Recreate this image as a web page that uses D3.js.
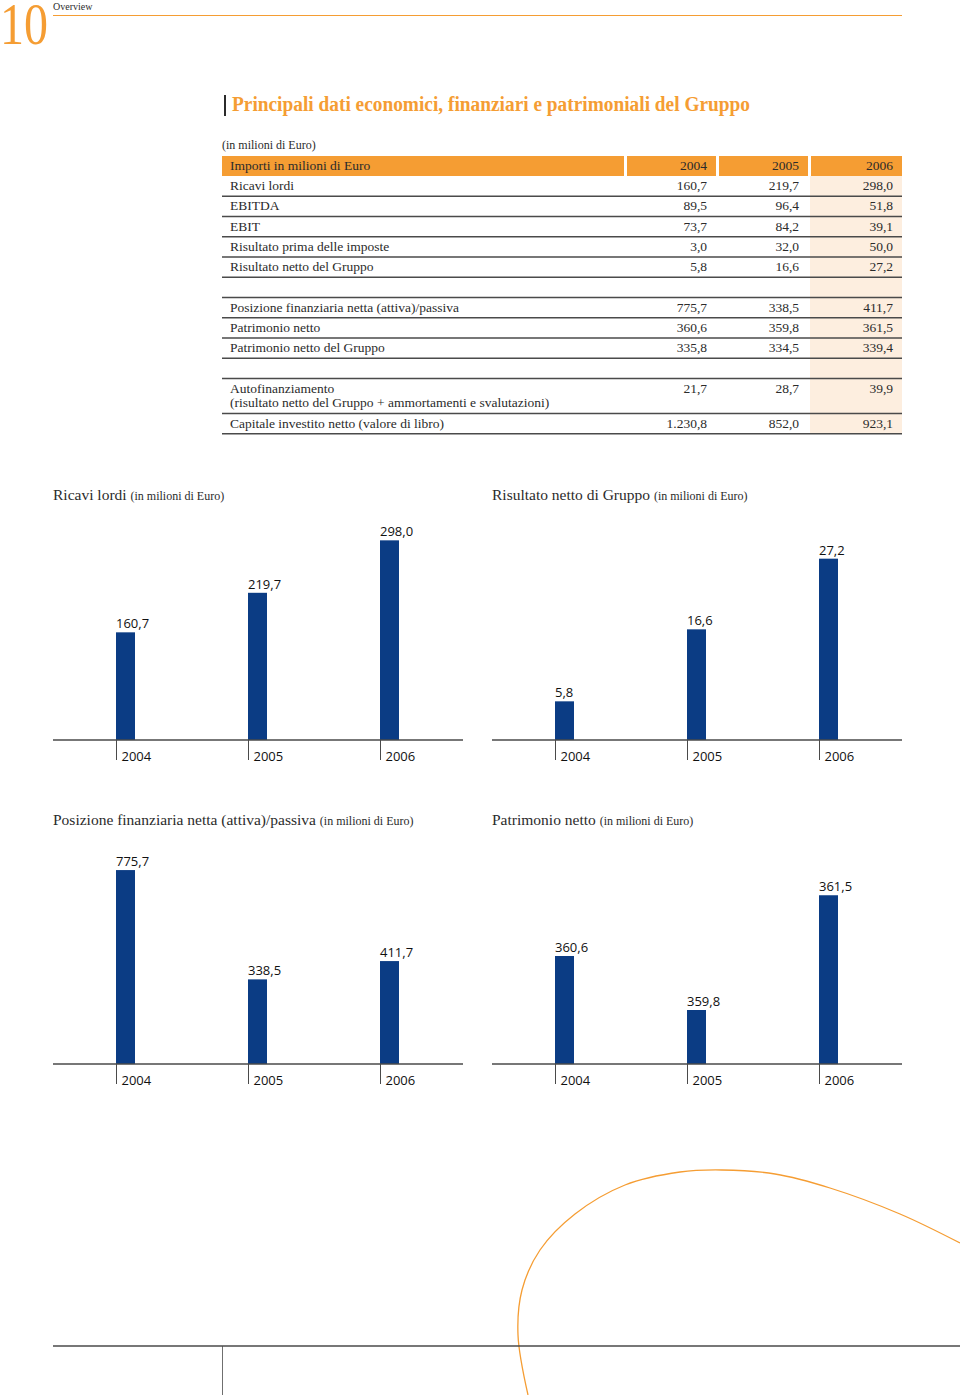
<!DOCTYPE html>
<html>
<head>
<meta charset="utf-8">
<script src="https://cdn.jsdelivr.net/npm/d3@7"></script>
<style>
  body { margin: 0; background: #fff; }
  svg { display: block; }
</style>
</head>
<body>
<svg width="960" height="1395"></svg>
<script>
// --- data ---
const years = ["2004", "2005", "2006"];

const tableLabels = [
  "Ricavi lordi",
  "EBITDA",
  "EBIT",
  "Risultato prima delle imposte",
  "Risultato netto del Gruppo",
  null,
  "Posizione finanziaria netta (attiva)/passiva",
  "Patrimonio netto",
  "Patrimonio netto del Gruppo",
  null,
  "Autofinanziamento\n(risultato netto del Gruppo + ammortamenti e svalutazioni)",
  "Capitale investito netto (valore di libro)"
];
const values2004 = [160.7, 89.5, 73.7, 3.0, 5.8, null, 775.7, 360.6, 335.8, null, 21.7, 1230.8];
const values2005 = [219.7, 96.4, 84.2, 32.0, 16.6, null, 338.5, 359.8, 334.5, null, 28.7, 852.0];
const values2006 = [298.0, 51.8, 39.1, 50.0, 27.2, null, 411.7, 361.5, 339.4, null, 39.9, 923.1];

const ricaviLordi = [160.7, 219.7, 298.0];
const risultatoNetto = [5.8, 16.6, 27.2];
const posizioneFin = [775.7, 338.5, 411.7];
const patrimonioNetto = [360.6, 359.8, 361.5];

// --- style ---
const orange = "#f59d33";
const navy = "#0b3c84";
const rule = "#4a4a4a";
const ink = "#2b2b2b";
const serif = "'Liberation Serif', 'DejaVu Serif', serif";
const sans = "'Open Sans', 'Noto Sans', sans-serif";

const fmt = d3.formatLocale({ decimal: ",", thousands: ".", grouping: [3], currency: ["€", ""] }).format(",.1f");

const svg = d3.select("svg");

// page header
svg.append("text")
  .attr("x", 0).attr("y", 44)
  .attr("font-family", serif).attr("font-size", 60)
  .attr("textLength", 48).attr("lengthAdjust", "spacingAndGlyphs")
  .attr("fill", orange)
  .text("10");

svg.append("text")
  .attr("x", 53).attr("y", 10)
  .attr("font-family", serif).attr("font-size", 10)
  .attr("fill", ink)
  .text("Overview");

svg.append("line")
  .attr("x1", 53).attr("x2", 902).attr("y1", 15.5).attr("y2", 15.5)
  .attr("stroke", orange).attr("stroke-width", 1);

// section title
svg.append("rect")
  .attr("x", 224).attr("y", 95).attr("width", 2).attr("height", 21)
  .attr("fill", ink);

svg.append("text")
  .attr("x", 232).attr("y", 111)
  .attr("font-family", serif).attr("font-size", 20).attr("font-weight", "bold")
  .attr("textLength", 518).attr("lengthAdjust", "spacingAndGlyphs")
  .attr("fill", orange)
  .text("Principali dati economici, finanziari e patrimoniali del Gruppo");

// --- table ---
const tLeft = 222, tRight = 902;
const colCells = [[627, 716], [719, 808], [811, 902]];
const headTop = 156, headH = 20;
const tFont = 13.5;

svg.append("text")
  .attr("x", tLeft).attr("y", 149)
  .attr("font-family", serif).attr("font-size", 12)
  .attr("fill", ink)
  .text("(in milioni di Euro)");

// header band
svg.append("rect")
  .attr("x", tLeft).attr("y", headTop).attr("width", 624 - tLeft).attr("height", headH)
  .attr("fill", orange);
svg.selectAll(".hcell")
  .data(years)
  .join("rect")
  .attr("class", "hcell")
  .attr("x", (d, i) => colCells[i][0])
  .attr("y", headTop)
  .attr("width", (d, i) => colCells[i][1] - colCells[i][0])
  .attr("height", headH)
  .attr("fill", orange);

svg.append("text")
  .attr("x", 230).attr("y", headTop + 14)
  .attr("font-family", serif).attr("font-size", tFont)
  .attr("fill", ink)
  .text("Importi in milioni di Euro");

svg.selectAll(".htext")
  .data(years)
  .join("text")
  .attr("class", "htext")
  .attr("x", (d, i) => colCells[i][1] - 9)
  .attr("y", headTop + 14)
  .attr("text-anchor", "end")
  .attr("font-family", serif).attr("font-size", tFont)
  .attr("fill", ink)
  .text(d => d);

// rows
const rowH = 20.25, rowH2 = 35;
const rows = [];
let yCur = headTop + headH;
tableLabels.forEach((label, i) => {
  const h = label && label.includes("\n") ? rowH2 : rowH;
  rows.push({ label, top: yCur, h, v: [values2004[i], values2005[i], values2006[i]] });
  yCur += h;
});
const tableBottom = yCur;

// highlighted last year column
svg.append("rect")
  .attr("x", 810).attr("y", headTop + headH)
  .attr("width", tRight - 810).attr("height", tableBottom - headTop - headH)
  .attr("fill", "#fdeedf");

const rowG = svg.selectAll(".row")
  .data(rows)
  .join("g")
  .attr("class", "row")
  .attr("transform", d => `translate(0,${d.top})`);

rowG.append("line")
  .attr("x1", tLeft).attr("x2", tRight)
  .attr("y1", d => d.h).attr("y2", d => d.h)
  .attr("stroke", rule).attr("stroke-width", 1.6);

rowG.filter(d => d.label)
  .append("text")
  .attr("font-family", serif).attr("font-size", tFont)
  .attr("fill", ink)
  .selectAll("tspan")
  .data(d => d.label.split("\n"))
  .join("tspan")
  .attr("x", 230)
  .attr("y", (d, i) => 14 + i * 14)
  .text(d => d);

rowG.filter(d => d.label)
  .selectAll(".val")
  .data(d => d.v)
  .join("text")
  .attr("class", "val")
  .attr("x", (d, i) => colCells[i][1] - 9)
  .attr("y", 14)
  .attr("text-anchor", "end")
  .attr("font-family", serif).attr("font-size", tFont)
  .attr("fill", ink)
  .text(d => fmt(d));

// --- bar charts ---
const charts = [
  { title: "Ricavi lordi", values: ricaviLordi, domain: [0, 300], x0: 53, ty: 500, base: 740, h: 201 },
  { title: "Risultato netto di Gruppo", values: risultatoNetto, domain: [0, 30], x0: 492, ty: 500, base: 740, h: 200 },
  { title: "Posizione finanziaria netta (attiva)/passiva", values: posizioneFin, domain: [0, 800], x0: 53, ty: 825, base: 1064, h: 200 },
  { title: "Patrimonio netto", values: patrimonioNetto, domain: [359, 362], x0: 492, ty: 825, base: 1064, h: 202.5 }
];
const chartW = 410, barW = 19;

charts.forEach(c => {
  const g = svg.append("g");

  const title = g.append("text")
    .attr("x", c.x0).attr("y", c.ty)
    .attr("font-family", serif).attr("font-size", 15.5)
    .attr("fill", ink);
  title.append("tspan").text(c.title + " ");
  title.append("tspan").attr("font-size", 12).text("(in milioni di Euro)");

  const x = d3.scalePoint()
    .domain(years)
    .range([c.x0 + 63, c.x0 + 327]);

  const y = d3.scaleLinear()
    .domain(c.domain)
    .range([c.base, c.base - c.h]);

  const data = years.map((yr, i) => ({ year: yr, value: c.values[i] }));

  g.selectAll(".bar")
    .data(data)
    .join("rect")
    .attr("class", "bar")
    .attr("x", d => x(d.year))
    .attr("y", d => y(d.value))
    .attr("width", barW)
    .attr("height", d => c.base - y(d.value))
    .attr("fill", navy);

  g.selectAll(".lbl")
    .data(data)
    .join("text")
    .attr("class", "lbl")
    .attr("x", d => x(d.year))
    .attr("y", d => y(d.value) - 4)
    .attr("font-family", sans).attr("font-size", 13)
    .attr("fill", "#111")
    .text(d => fmt(d.value));

  const axis = g.append("g")
    .attr("transform", `translate(0,${c.base})`)
    .call(d3.axisBottom(x).tickSize(20).tickSizeOuter(0));
  axis.select(".domain").remove();
  axis.selectAll(".tick line").attr("stroke", rule).attr("stroke-width", 1);
  axis.selectAll(".tick text")
    .attr("text-anchor", "start")
    .attr("x", 5).attr("y", 21).attr("dy", 0)
    .attr("font-family", sans).attr("font-size", 13)
    .attr("fill", "#111");

  g.append("line")
    .attr("x1", c.x0).attr("x2", c.x0 + chartW)
    .attr("y1", c.base).attr("y2", c.base)
    .attr("stroke", rule).attr("stroke-width", 1.4);
});

// --- page footer decoration ---
const swoosh = [[528, 1395], [518, 1335], [522, 1290], [540, 1250], [575, 1214], [625, 1185], [680, 1172],
  [722, 1170], [775, 1174], [830, 1188], [900, 1214], [960, 1243]];
svg.append("path")
  .attr("d", d3.line().curve(d3.curveCatmullRom)(swoosh))
  .attr("fill", "none")
  .attr("stroke", orange).attr("stroke-width", 1.3);

svg.append("line")
  .attr("x1", 53).attr("x2", 960).attr("y1", 1346).attr("y2", 1346)
  .attr("stroke", rule).attr("stroke-width", 1.4);
svg.append("line")
  .attr("x1", 222.5).attr("x2", 222.5).attr("y1", 1346).attr("y2", 1395)
  .attr("stroke", rule).attr("stroke-width", 0.8);
</script>
</body>
</html>
